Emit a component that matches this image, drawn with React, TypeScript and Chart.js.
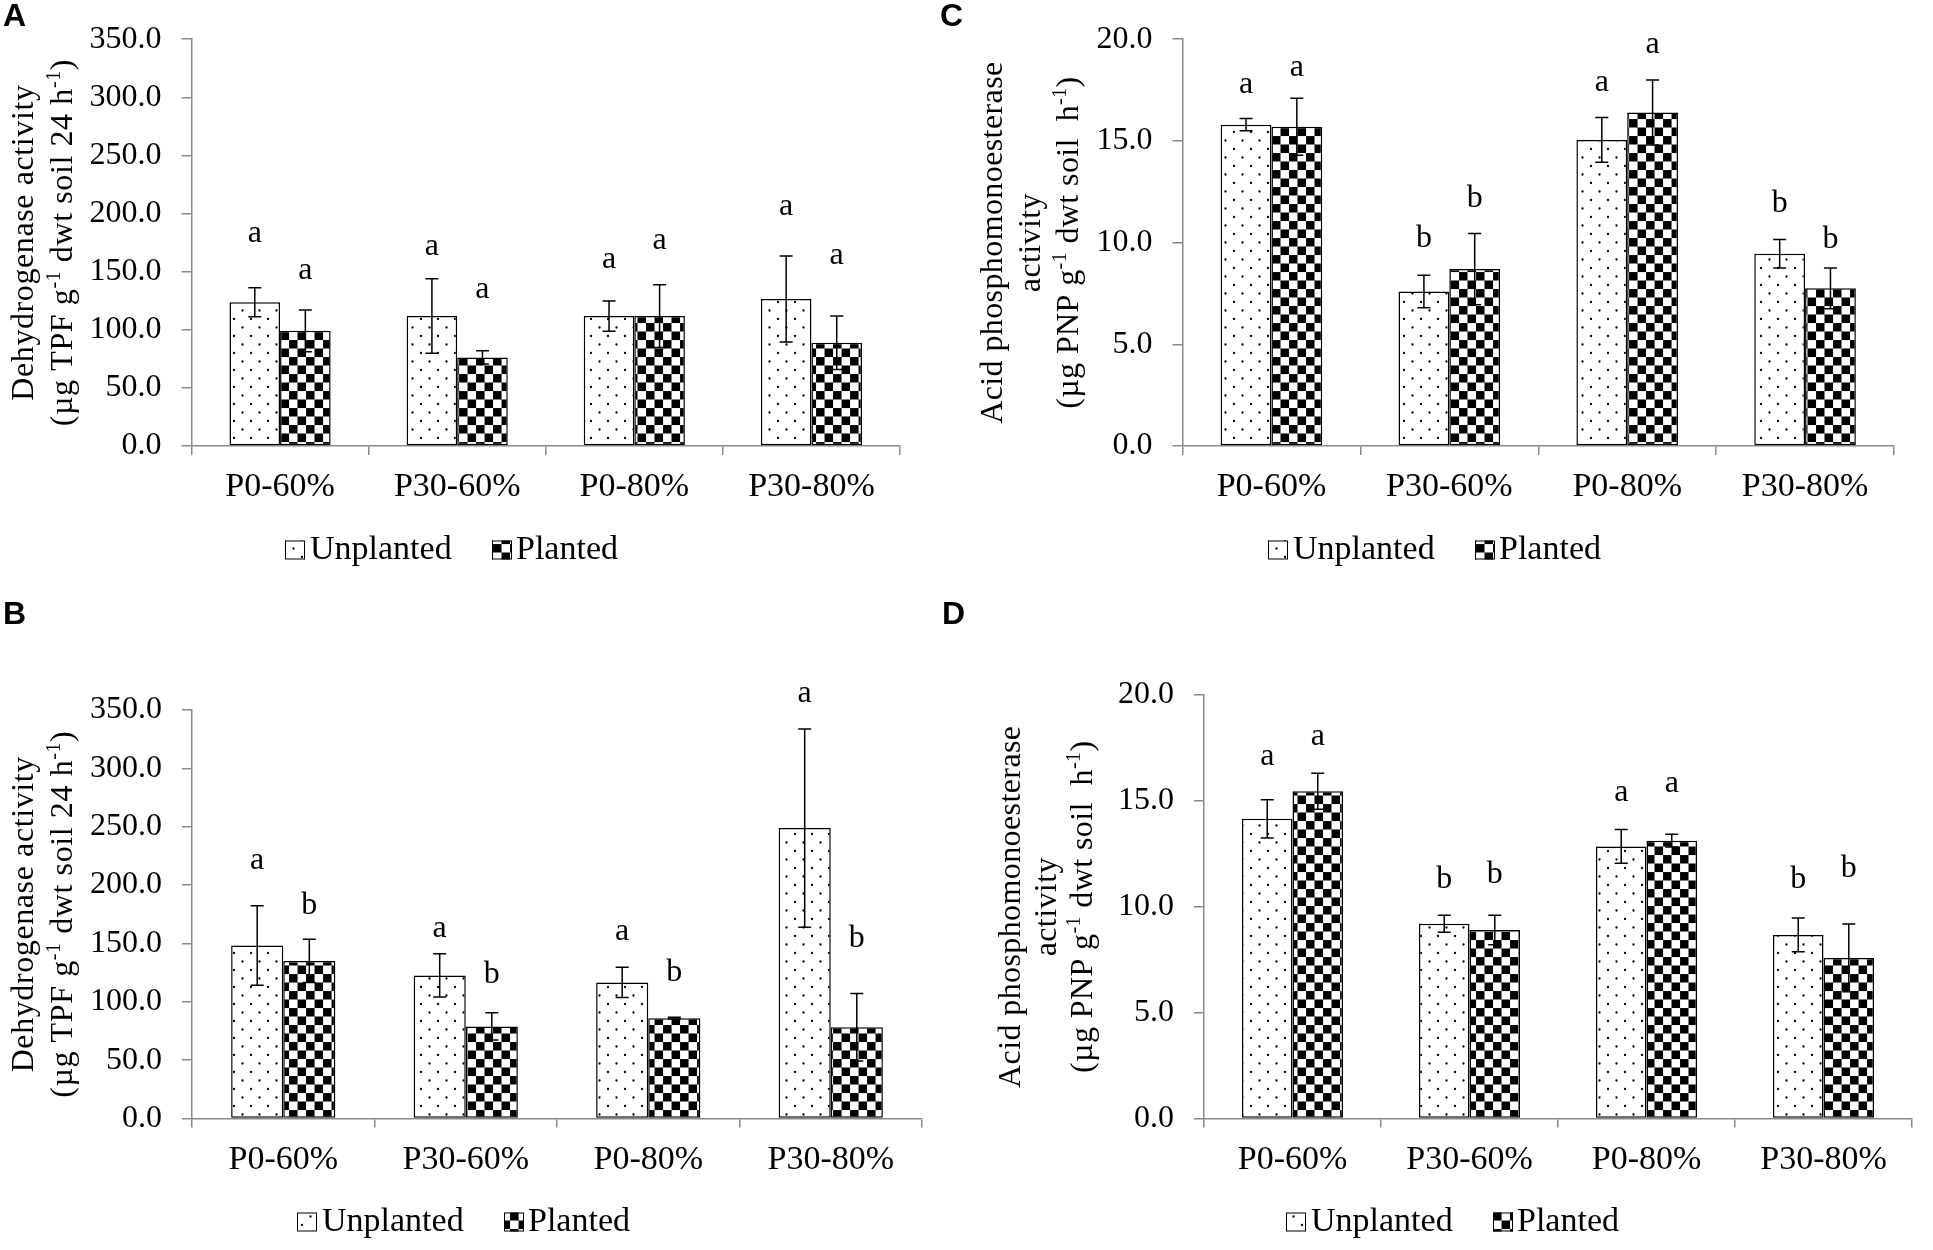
import React, { useEffect, useRef } from 'react';
import { Chart, registerables } from 'chart.js';

Chart.register(...registerables);

const SERIF = "'Liberation Serif', 'Times New Roman', serif";
const AXIS = '#8a8a8a';

const categories = ['P0-60%', 'P30-60%', 'P0-80%', 'P30-80%'];
const seriesNames = ['Unplanted', 'Planted'];

// Panel A – dehydrogenase
const aUnplanted = [123.7, 111.8, 111.8, 126.4];
const aUnplantedErr = [12.5, 32, 13, 37];
const aPlanted = [99.1, 76.2, 111.8, 88.9];
const aPlantedErr = [18, 5.7, 27, 23];
const aUnplantedLetters = ['a', 'a', 'a', 'a'];
const aPlantedLetters = ['a', 'a', 'a', 'a'];
const aUnplantedLetterAt = [182, 170.5, 159.7, 205.5];
const aPlantedLetterAt = [150.5, 133.4, 175.6, 162.9];

// Panel B – dehydrogenase
const bUnplanted = [148.2, 122.6, 116.6, 248.8];
const bUnplantedErr = [34, 18.5, 13, 85];
const bPlanted = [135.0, 78.9, 86.0, 78.2];
const bPlantedErr = [18.5, 11.7, 0.7, 29];
const bUnplantedLetters = ['a', 'a', 'a', 'a'];
const bPlantedLetters = ['b', 'b', 'b', 'b'];
const bUnplantedLetterAt = [220.3, 161.7, 159.2, 363.2];
const bPlantedLetterAt = [184.8, 126.2, 127.9, 156.4];

// Panel C – acid phosphomonoesterase
const cUnplanted = [15.8, 7.6, 15.05, 9.45];
const cUnplantedErr = [0.3, 0.8, 1.1, 0.7];
const cPlanted = [15.7, 8.7, 16.4, 7.75];
const cPlantedErr = [1.4, 1.75, 1.6, 1.0];
const cUnplantedLetters = ['a', 'b', 'a', 'b'];
const cPlantedLetters = ['a', 'b', 'a', 'b'];
const cUnplantedLetterAt = [17.7, 10.34, 17.84, 12.07];
const cPlantedLetterAt = [18.55, 12.34, 19.69, 10.31];

// Panel D – acid phosphomonoesterase
const dUnplanted = [14.15, 9.2, 12.85, 8.67];
const dUnplantedErr = [0.9, 0.4, 0.8, 0.8];
const dPlanted = [15.45, 8.9, 13.12, 7.58];
const dPlantedErr = [0.85, 0.7, 0.3, 1.6];
const dUnplantedLetters = ['a', 'b', 'a', 'b'];
const dPlantedLetters = ['a', 'b', 'a', 'b'];
const dUnplantedLetterAt = [17.06, 11.41, 15.37, 11.43];
const dPlantedLetterAt = [17.98, 11.67, 15.75, 11.96];

// Axis ranges
const dehydMax = 350;
const dehydStep = 50;
const phosMax = 20;
const phosStep = 5;

type Seg = [string, boolean];
const dehydTitle: Seg[][] = [
  [['Dehydrogenase activity', false]],
  [['(µg TPF g', false], ['-1', true], [' dwt soil 24 h', false], ['-1', true], [')', false]],
];
const phosTitle: Seg[][] = [
  [['Acid phosphomonoesterase', false]],
  [['activity', false]],
  [['(µg PNP g', false], ['-1', true], [' dwt soil  h', false], ['-1', true], [')', false]],
];

interface PanelCfg {
  letter: string;
  left: number; top: number; width: number; height: number;
  yAxisWidth: number; plotTop: number; zero: number; plotRight: number;
  titleX: number[]; title: Seg[][]; titleSpacing: string;
  legendLeft: number; legendY: number;
  yMax: number; yStep: number;
  values: number[][]; errors: number[][]; letters: string[][]; letterAt: number[][];
}

const panels: PanelCfg[] = [
  {
    letter: 'A', left: 0, top: 0, width: 966, height: 600,
    yAxisWidth: 191.5, plotTop: 24, zero: 446, plotRight: 900,
    titleX: [33, 72], title: dehydTitle, titleSpacing: '0.6px', legendLeft: 285, legendY: 550,
    yMax: dehydMax, yStep: dehydStep,
    values: [aUnplanted, aPlanted], errors: [aUnplantedErr, aPlantedErr],
    letters: [aUnplantedLetters, aPlantedLetters], letterAt: [aUnplantedLetterAt, aPlantedLetterAt],
  },
  {
    letter: 'B', left: 0, top: 600, width: 966, height: 650,
    yAxisWidth: 192, plotTop: 110, zero: 518.5, plotRight: 922,
    titleX: [33, 72], title: dehydTitle, titleSpacing: '0.6px', legendLeft: 297, legendY: 622,
    yMax: dehydMax, yStep: dehydStep,
    values: [bUnplanted, bPlanted], errors: [bUnplantedErr, bPlantedErr],
    letters: [bUnplantedLetters, bPlantedLetters], letterAt: [bUnplantedLetterAt, bPlantedLetterAt],
  },
  {
    letter: 'C', left: 966, top: 0, width: 967, height: 600,
    yAxisWidth: 216.5, plotTop: 24, zero: 446, plotRight: 928,
    titleX: [36, 74, 112], title: phosTitle, titleSpacing: '0.4px', legendLeft: 302, legendY: 550,
    yMax: phosMax, yStep: phosStep,
    values: [cUnplanted, cPlanted], errors: [cUnplantedErr, cPlantedErr],
    letters: [cUnplantedLetters, cPlantedLetters], letterAt: [cUnplantedLetterAt, cPlantedLetterAt],
  },
  {
    letter: 'D', left: 966, top: 600, width: 967, height: 650,
    yAxisWidth: 238, plotTop: 95, zero: 518.5, plotRight: 946,
    titleX: [54, 90, 126], title: phosTitle, titleSpacing: '0.4px', legendLeft: 320, legendY: 622,
    yMax: phosMax, yStep: phosStep,
    values: [dUnplanted, dPlanted], errors: [dUnplantedErr, dPlantedErr],
    letters: [dUnplantedLetters, dPlantedLetters], letterAt: [dUnplantedLetterAt, dPlantedLetterAt],
  },
];

function makeDots(ctx: CanvasRenderingContext2D): CanvasPattern {
  const c = document.createElement('canvas');
  c.width = 17; c.height = 17;
  const g = c.getContext('2d')!;
  g.fillStyle = '#fff';
  g.fillRect(0, 0, 17, 17);
  g.fillStyle = '#000';
  g.beginPath(); g.arc(4.5, 4.5, 1.15, 0, Math.PI * 2); g.fill();
  g.beginPath(); g.arc(13, 13, 1.15, 0, Math.PI * 2); g.fill();
  return ctx.createPattern(c, 'repeat')!;
}

function makeChecker(ctx: CanvasRenderingContext2D): CanvasPattern {
  const c = document.createElement('canvas');
  c.width = 16; c.height = 16;
  const g = c.getContext('2d')!;
  g.fillStyle = '#fff';
  g.fillRect(0, 0, 16, 16);
  g.fillStyle = '#000';
  g.fillRect(0, 0, 8, 8);
  g.fillRect(8, 8, 8, 8);
  const p = ctx.createPattern(c, 'repeat')!;
  try { p.setTransform(new DOMMatrix().scale(17 / 16)); } catch (e) { /* ignore */ }
  return p;
}

function makeOverlay(p: PanelCfg) {
  return {
    id: 'overlay' + p.letter,
    afterDatasetsDraw(chart: any) {
      const ctx: CanvasRenderingContext2D = chart.ctx;
      const ys = chart.scales.y;
      ctx.save();
      ctx.strokeStyle = '#000';
      ctx.lineWidth = 1.5;
      chart.data.datasets.forEach((ds: any, di: number) => {
        const meta = chart.getDatasetMeta(di);
        meta.data.forEach((bar: any, j: number) => {
          const v = ds.data[j];
          const e = p.errors[di][j];
          const x = bar.x;
          const yT = ys.getPixelForValue(v + e);
          const yB = ys.getPixelForValue(v - e);
          ctx.beginPath();
          ctx.moveTo(x, yT); ctx.lineTo(x, yB);
          ctx.moveTo(x - 6.5, yT); ctx.lineTo(x + 6.5, yT);
          ctx.moveTo(x - 6.5, yB); ctx.lineTo(x + 6.5, yB);
          ctx.stroke();
        });
      });
      ctx.fillStyle = '#000';
      ctx.font = `32px ${SERIF}`;
      ctx.textAlign = 'center';
      ctx.textBaseline = 'alphabetic';
      chart.data.datasets.forEach((ds: any, di: number) => {
        const meta = chart.getDatasetMeta(di);
        meta.data.forEach((bar: any, j: number) => {
          const t = p.letters[di][j];
          const m = ctx.measureText(t);
          const cy = ys.getPixelForValue(p.letterAt[di][j]);
          ctx.fillText(t, bar.x, cy + (m.actualBoundingBoxAscent - m.actualBoundingBoxDescent) / 2);
        });
      });
      ctx.restore();
    },
    afterDraw(chart: any) {
      const ctx: CanvasRenderingContext2D = chart.ctx;
      const area = chart.chartArea;
      ctx.save();
      // rotated axis title
      const cy = (area.top + area.bottom) / 2;
      const mainFont = `32px ${SERIF}`;
      const supFont = `20px ${SERIF}`;
      ctx.fillStyle = '#000';
      ctx.textBaseline = 'alphabetic';
      ctx.textAlign = 'left';
      try { (ctx as any).letterSpacing = p.titleSpacing; } catch (e) { /* ignore */ }
      p.title.forEach((line, li) => {
        let total = 0;
        const widths = line.map(([t, sup]) => {
          ctx.font = sup ? supFont : mainFont;
          const w = ctx.measureText(t).width;
          total += w;
          return w;
        });
        ctx.save();
        ctx.translate(p.titleX[li], cy);
        ctx.rotate(-Math.PI / 2);
        let x = -total / 2;
        line.forEach(([t, sup], si) => {
          ctx.font = sup ? supFont : mainFont;
          ctx.fillText(t, x, sup ? -12 : 0);
          x += widths[si];
        });
        ctx.restore();
      });
      try { (ctx as any).letterSpacing = '0px'; } catch (e) { /* ignore */ }
      // legend
      ctx.font = `34px ${SERIF}`;
      ctx.textBaseline = 'middle';
      ctx.textAlign = 'left';
      const offsets = [0, 207];
      const textGap = [25, 24];
      chart.data.datasets.forEach((ds: any, di: number) => {
        const bx = p.legendLeft + offsets[di];
        const by = p.legendY - 9.5;
        ctx.fillStyle = ds.backgroundColor;
        ctx.fillRect(bx, by, 20, 19);
        ctx.strokeStyle = '#000';
        ctx.lineWidth = 1;
        ctx.strokeRect(bx + 0.5, by + 0.5, 19, 18);
        ctx.fillStyle = '#000';
        ctx.fillText(ds.label, bx + textGap[di], p.legendY);
      });
      ctx.restore();
    },
  };
}

function Panel({ cfg }: { cfg: PanelCfg }) {
  const ref = useRef<HTMLCanvasElement>(null);
  useEffect(() => {
    const canvas = ref.current!;
    const ctx = canvas.getContext('2d')!;
    const fills = [makeDots(ctx), makeChecker(ctx)];
    const chart = new Chart(canvas, {
      type: 'bar',
      data: {
        labels: categories,
        datasets: seriesNames.map((name, i) => ({
          label: name,
          data: cfg.values[i],
          backgroundColor: fills[i] as any,
          borderColor: '#000',
          borderWidth: 1.5,
          borderSkipped: false,
          categoryPercentage: 0.571,
          barPercentage: 1,
        })),
      },
      options: {
        responsive: false,
        animation: false,
        devicePixelRatio: 1,
        events: [],
        layout: { padding: { left: 0, top: cfg.plotTop, right: cfg.width - cfg.plotRight, bottom: 0 } },
        plugins: { legend: { display: false }, tooltip: { enabled: false }, title: { display: false } },
        scales: {
          x: {
            type: 'category',
            offset: true,
            grid: { display: true, drawOnChartArea: false, drawTicks: true, tickLength: 9, color: AXIS, lineWidth: 1.5, offset: true },
            border: { display: true, color: AXIS, width: 1.5 },
            ticks: { color: '#000', font: { family: SERIF, size: 34 }, padding: 12, maxRotation: 0, autoSkip: false },
            afterFit: (s: any) => { s.height = cfg.height - cfg.zero; },
          },
          y: {
            type: 'linear',
            min: 0,
            max: cfg.yMax,
            grid: { display: true, drawOnChartArea: false, drawTicks: true, tickLength: 10, color: AXIS, lineWidth: 1.5 },
            border: { display: true, color: AXIS, width: 1.5 },
            ticks: {
              stepSize: cfg.yStep,
              color: '#000',
              font: { family: SERIF, size: 32 },
              padding: 20,
              callback: (v: any) => Number(v).toFixed(1),
            },
            afterFit: (s: any) => { s.width = cfg.yAxisWidth; },
          },
        },
      } as any,
      plugins: [makeOverlay(cfg)],
    });
    return () => chart.destroy();
  }, [cfg]);
  return (
    <div style={{ position: 'absolute', left: cfg.left, top: cfg.top, width: cfg.width, height: cfg.height }}>
      <canvas ref={ref} width={cfg.width} height={cfg.height} style={{ width: cfg.width, height: cfg.height, display: 'block' }} />
    </div>
  );
}

const letterPos: Record<string, [number, number]> = { A: [3, -1], B: [3, 597], C: [940, -1], D: [942, 597] };

export default function App() {
  return (
    <div style={{ position: 'absolute', left: 0, top: 0, width: 1933, height: 1250, background: '#fff', overflow: 'hidden' }}>
      {panels.map((p) => <Panel key={p.letter} cfg={p} />)}
      {panels.map((p) => (
        <div
          key={'L' + p.letter}
          style={{
            position: 'absolute', left: letterPos[p.letter][0], top: letterPos[p.letter][1],
            font: "bold 32px 'Liberation Sans', Arial, sans-serif", lineHeight: '32px', color: '#000',
          }}
        >
          {p.letter}
        </div>
      ))}
    </div>
  );
}
